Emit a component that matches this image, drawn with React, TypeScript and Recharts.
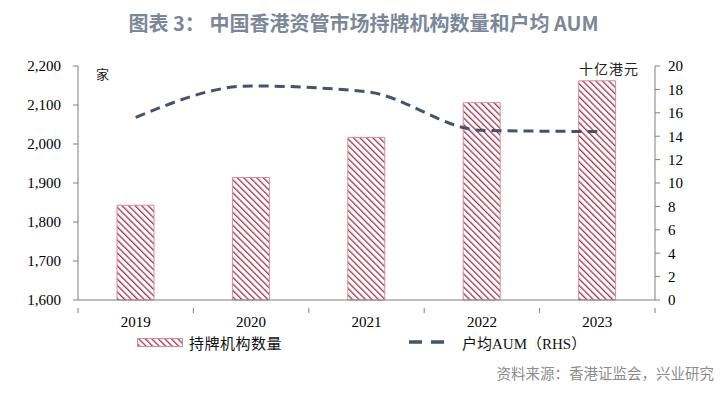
import React from 'react';
import { Bar, ComposedChart, Line, XAxis, YAxis } from 'recharts';

const years = ['2019', '2020', '2021', '2022', '2023'];
const licensedFirms = [1843, 1914, 2017, 2106, 2162];
const avgAum = [15.6, 18.3, 17.8, 14.5, 14.4];
const leftTicks = [1600, 1700, 1800, 1900, 2000, 2100, 2200];
const rightTicks = [0, 2, 4, 6, 8, 10, 12, 14, 16, 18, 20];

const data = years.map((year, i) => ({
  year,
  firms: licensedFirms[i],
  aum: avgAum[i],
}));

const W = 727;
const H = 397;
const PLOT_LEFT = 78;
const PLOT_RIGHT = 655;
const BAND = (PLOT_RIGHT - PLOT_LEFT) / years.length;

const serif = "'Liberation Serif', 'Times New Roman', 'Noto Sans CJK SC', serif";
const axisColor = '#7f7f7f';
const stripe = '#a0344c';
const barEdge = '#d98a99';
const lineColor = '#44546a';

const YearTick = (props: any) => {
  const { x, y, payload, index } = props;
  return (
    <g>
      <line x1={x + BAND / 2} y1={y} x2={x + BAND / 2} y2={y + 5} stroke={axisColor} />
      {index === 0 && <line x1={x - BAND / 2} y1={y} x2={x - BAND / 2} y2={y + 5} stroke={axisColor} />}
      <text x={x} y={y + 19} textAnchor="middle" fontFamily={serif} fontSize={15} fill="#000">
        {payload.value}
      </text>
    </g>
  );
};

const HatchPattern = ({ id }: { id: string }) => (
  <pattern id={id} width="4.6" height="4.6" patternUnits="userSpaceOnUse" patternTransform="rotate(-45)">
    <rect width="4.6" height="4.6" fill="#fff" />
    <line x1="0" y1="0" x2="0" y2="4.6" stroke={stripe} strokeWidth="2.6" />
  </pattern>
);

const HatchSwatch = ({ w, h }: { w: number; h: number }) => (
  <svg width={w} height={h} style={{ display: 'block' }}>
    <defs>
      <HatchPattern id="hatchLegend" />
    </defs>
    <rect x="0.5" y="0.5" width={w - 1} height={h - 1} fill="url(#hatchLegend)" stroke={barEdge} />
  </svg>
);

export default function App() {
  return (
    <div style={{ position: 'absolute', left: 0, top: 0, width: W, height: H, background: '#fff' }}>
      <div
        style={{
          position: 'absolute',
          left: 0,
          width: W,
          top: 10,
          textAlign: 'center',
          fontFamily: "'Noto Sans CJK SC', 'Noto Sans', sans-serif",
          fontWeight: 700,
          fontSize: 20,
          color: '#7b8799',
          lineHeight: '26px',
        }}
      >
        图表 3：&nbsp;中国香港资管市场持牌机构数量和户均 AUM
      </div>

      <ComposedChart width={W} height={H} data={data} margin={{ top: 66, right: 0, bottom: 67, left: 0 }}>
        <defs>
          <HatchPattern id="hatch" />
        </defs>
        <XAxis
          dataKey="year"
          height={30}
          axisLine={{ stroke: axisColor }}
          tickLine={false}
          tick={<YearTick />}
          interval={0}
        />
        <YAxis
          yAxisId="left"
          width={78}
          domain={[1600, 2200]}
          ticks={leftTicks}
          tickFormatter={(v: number) => v.toLocaleString('en-US')}
          axisLine={{ stroke: axisColor }}
          tickLine={{ stroke: axisColor }}
          tickSize={5}
          tickMargin={12}
          tick={{ fill: '#000', fontFamily: serif, fontSize: 15 }}
        />
        <YAxis
          yAxisId="right"
          orientation="right"
          width={72}
          domain={[0, 20]}
          ticks={rightTicks}
          axisLine={{ stroke: axisColor }}
          tickLine={{ stroke: axisColor }}
          tickSize={5}
          tickMargin={8}
          tick={{ fill: '#000', fontFamily: serif, fontSize: 15, textAnchor: 'start' }}
        />
        <Bar
          yAxisId="left"
          dataKey="firms"
          barSize={37}
          fill="url(#hatch)"
          stroke={barEdge}
          strokeWidth={1}
          isAnimationActive={false}
        />
        <Line
          yAxisId="right"
          dataKey="aum"
          type="monotone"
          stroke={lineColor}
          strokeWidth={3}
          strokeDasharray="10 6"
          dot={false}
          activeDot={false}
          isAnimationActive={false}
        />
      </ComposedChart>

      {/* unit labels */}
      <div style={{ position: 'absolute', left: 96, top: 64, fontFamily: serif, fontSize: 13, color: '#222' }}>家</div>
      <div style={{ position: 'absolute', left: 579, top: 58, fontFamily: serif, fontSize: 14, letterSpacing: 1, color: '#222' }}>
        十亿港元
      </div>

      {/* legend */}
      <div style={{ position: 'absolute', left: 137, top: 338 }}>
        <HatchSwatch w={46} h={9} />
      </div>
      <div style={{ position: 'absolute', left: 189, top: 332, fontFamily: serif, fontSize: 15, letterSpacing: 0.5, color: '#111' }}>
        持牌机构数量
      </div>
      <svg style={{ position: 'absolute', left: 409, top: 338 }} width={36} height={8}>
        <line x1={0} y1={4} x2={36} y2={4} stroke={lineColor} strokeWidth={3.5} strokeDasharray="13 9" />
      </svg>
      <div style={{ position: 'absolute', left: 462, top: 332, fontFamily: serif, fontSize: 15, color: '#111' }}>
        户均AUM（RHS）
      </div>

      {/* source */}
      <div
        style={{
          position: 'absolute',
          right: 13,
          top: 362,
          fontFamily: "'Noto Sans CJK SC', sans-serif",
          fontSize: 14.5,
          color: '#8c8c8c',
        }}
      >
        资料来源：香港证监会，兴业研究
      </div>
    </div>
  );
}
